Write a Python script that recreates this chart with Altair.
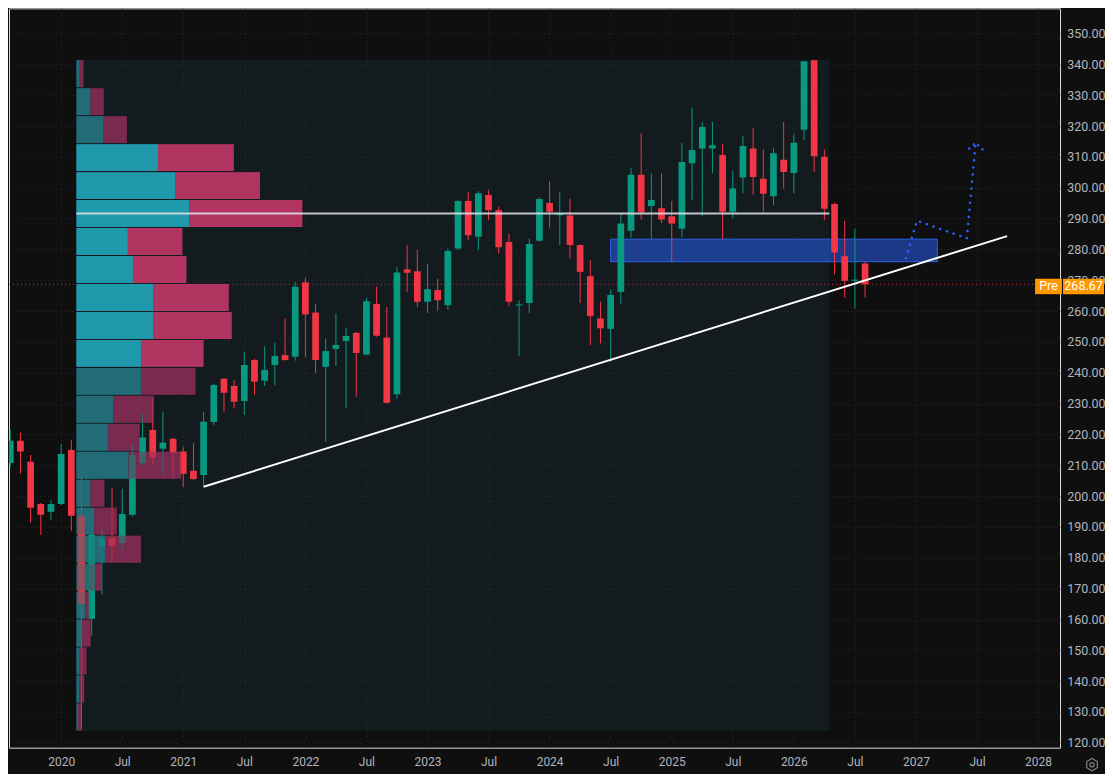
import altair as alt
import pandas as pd

# ---------------- data ----------------
first_month = (2019, 8)   # first candle shown: Aug 2019, monthly bars
opens = [210.7, 217.9, 211.1, 197.4, 194.9,
         197.4, 214.9, 193.6, 160.2, 183.6, 186.4, 184.8, 193.9, 210.6, 221.4, 215.3, 218.6,
         214.4, 208.2, 206.8, 224.0, 238.0, 235.7, 230.8, 244.1, 237.4, 242.5, 245.7, 245.2,
         269.3, 259.5, 241.9, 247.7, 250.3, 252.9, 245.9, 262.3, 251.4, 233.0, 273.5, 272.9,
         263.0, 266.8, 261.9, 280.3, 295.7, 284.1, 297.6, 292.7, 282.4, 261.8, 262.6, 282.8,
         295.0, 291.1, 291.0, 281.4, 271.3, 257.6, 254.2, 266.2, 286.0, 304.2, 294.1, 293.3,
         290.7, 286.7, 307.9, 312.7, 312.7, 310.6, 292.2, 303.3, 312.7, 302.9, 297.2, 309.1,
         304.8, 318.8, 341.3, 310.0, 294.7, 277.8, 269.8, 275.4]
highs = [221.6, 220.6, 213.3, 197.8, 198.7,
         216.9, 218.2, 206.8, 190.0, 190.0, 202.6, 202.3, 216.6, 226.6, 231.8, 227.3, 218.9,
         216.0, 217.1, 227.3, 236.5, 238.3, 237.6, 246.8, 244.5, 248.6, 249.7, 257.6, 269.4,
         270.9, 262.4, 251.1, 259.2, 254.4, 253.2, 264.2, 267.9, 261.3, 274.3, 281.4, 279.8,
         275.2, 270.4, 280.3, 295.9, 298.6, 298.9, 299.2, 293.8, 285.1, 263.5, 283.5, 296.8,
         302.2, 298.6, 296.5, 281.6, 276.5, 263.0, 267.0, 291.6, 306.5, 317.7, 304.6, 304.6,
         295.6, 314.5, 326.0, 321.3, 321.3, 314.1, 305.4, 316.7, 319.3, 312.4, 312.9, 321.3,
         317.3, 341.0, 341.5, 312.4, 295.2, 289.3, 286.7, 276.0]
lows = [209.4, 207.2, 191.4, 187.4, 192.3,
        197.0, 188.7, 124.2, 154.7, 168.0, 178.7, 182.5, 193.3, 210.0, 210.1, 206.8, 205.7,
        202.8, 205.2, 203.0, 223.0, 227.3, 228.4, 226.3, 232.8, 235.7, 236.0, 243.9, 243.9,
        245.1, 239.8, 217.6, 242.2, 228.4, 232.2, 245.6, 251.7, 230.0, 231.6, 266.2, 261.3,
        259.4, 260.1, 260.5, 279.8, 283.0, 279.8, 289.5, 278.7, 261.6, 245.4, 259.4, 282.5,
        287.1, 281.4, 277.0, 262.6, 248.9, 249.5, 243.5, 262.4, 283.8, 289.7, 283.5, 288.5,
        276.0, 284.0, 296.0, 290.8, 304.7, 283.3, 290.2, 298.2, 297.6, 292.2, 294.3, 299.7,
        298.2, 315.4, 305.1, 289.5, 271.9, 264.4, 260.8, 264.4]
closes = [217.9, 214.4, 196.2, 193.9, 197.4,
          213.6, 193.6, 165.0, 187.4, 186.1, 183.9, 194.2, 213.3, 219.0, 212.4, 217.3, 214.0,
          207.2, 205.5, 224.1, 236.0, 233.5, 230.6, 242.5, 237.1, 240.9, 245.4, 244.1, 267.9,
          258.9, 244.1, 247.0, 249.0, 251.9, 246.4, 263.2, 252.0, 230.2, 272.5, 272.4, 263.0,
          267.1, 263.5, 279.5, 295.7, 284.6, 298.2, 292.7, 280.7, 263.0, 262.1, 281.7, 296.3,
          292.2, 291.5, 281.4, 272.7, 258.4, 254.4, 265.2, 288.4, 304.2, 292.0, 296.0, 289.7,
          288.4, 308.3, 312.2, 319.7, 313.8, 292.2, 299.7, 313.5, 303.5, 298.0, 311.2, 305.1,
          314.6, 341.0, 310.2, 293.2, 279.0, 269.8, 270.2, 268.67]

# Fixed-range volume profile (Mar 2020 .. Apr 2026), 24 rows top -> bottom
vp_range_months = [1.5, 75.5]          # bar-edge bounds of the range (month index, 0 = Jan 2020)
vp_high, vp_low = 341.5, 123.8
vp_up = [3.3, 14, 27, 81, 98.3, 112, 51, 56, 76, 76, 64, 64,
         36.7, 31.7, 51.7, 14, 17.7, 29, 12.3, 9, 5, 3.3, 2.7, 1.7]
vp_down = [3.7, 13, 23, 75, 83.7, 112, 54, 53, 75, 78, 62, 54,
           40, 31, 52.3, 13.7, 22.3, 35, 12.7, 4.3, 9, 6.7, 5, 3.3]
value_area_rows = [3, 4, 5, 6, 7, 8, 9, 10]
vp_width_share = 0.30

# Drawings
trend_m, trend_p = [14.0, 92.96], [203.0, 284.3]
zone_m, zone_p = [54.0, 86.1], [276.0, 283.3]
path_m, path_p = [83.0, 84.1, 89.0, 89.87], [277.1, 289.3, 283.6, 314.6]
arrow_m, arrow_p = [89.23, 89.87, 90.78], [312.7, 314.6, 311.6]
last_price = 268.67

# ---------------- frames ----------------
n = len(opens)
y0, mo0 = first_month
m_idx = [(y0 - 2020) * 12 + (mo0 - 1) + i for i in range(n)]

GREEN, RED = "#089981", "#f23645"
c = pd.DataFrame({"m": m_idx, "open": opens, "high": highs, "low": lows, "close": closes})
c["color"] = [GREEN if cl >= op else RED for op, cl in zip(c["open"], c["close"])]
c["btop"] = c[["open", "close"]].max(axis=1)
c["bbot"] = c[["open", "close"]].min(axis=1)
c.loc[c["btop"] - c["bbot"] < 0.35, "btop"] = c["bbot"] + 0.35
c["x0"] = c["m"] - 0.33
c["x1"] = c["m"] + 0.33

rows = len(vp_up)
step = (vp_high - vp_low) / rows
span = vp_range_months[1] - vp_range_months[0]
max_tot = max(u + d for u, d in zip(vp_up, vp_down))
seg = []
for k in range(rows):
    top = vp_high - k * step - 0.17
    bot = vp_high - (k + 1) * step + 0.17
    inside = k in value_area_rows
    xu = vp_range_months[0] + vp_up[k] / max_tot * vp_width_share * span
    xt = vp_range_months[0] + (vp_up[k] + vp_down[k]) / max_tot * vp_width_share * span
    seg.append({"x0": vp_range_months[0], "x1": xu, "top": top, "bot": bot,
                "color": "#229aae" if inside else "#226c77"})
    seg.append({"x0": xu, "x1": xt, "top": top, "bot": bot,
                "color": "#b23562" if inside else "#7b2a4f"})
vp = pd.DataFrame(seg)
poc_k = max(range(rows), key=lambda k: vp_up[k] + vp_down[k])
poc = pd.DataFrame({"m0": [vp_range_months[0]], "m1": [vp_range_months[1]],
                    "p": [vp_high - (poc_k + 0.5) * step]})
region = pd.DataFrame({"m0": [vp_range_months[0]], "m1": [vp_range_months[1]],
                       "p0": [vp_high], "p1": [vp_low]})
trend = pd.DataFrame({"m0": [trend_m[0]], "m1": [trend_m[1]], "p0": [trend_p[0]], "p1": [trend_p[1]]})
zone = pd.DataFrame({"m0": [zone_m[0]], "m1": [zone_m[1]], "p0": [zone_p[0]], "p1": [zone_p[1]]})
path = pd.DataFrame({"m": path_m, "p": path_p, "o": range(len(path_m))})
arrow = pd.DataFrame({"m": arrow_m, "p": arrow_p, "o": range(len(arrow_m))})
last = pd.DataFrame({"p": [last_price], "lbl": [f"{last_price:.2f}"], "tag": ["Pre"]})
gear = pd.DataFrame({"g": [0]})

# ---------------- scales / axes ----------------
W, H = 1052, 740
X_DOM = [-5.125, 98.16]
Y_DOM = [358.17 - H / 3.086, 358.17]
GRID = "#2a2e39"
TXT = "#b2b5be"

xaxis = alt.Axis(values=list(range(0, 97, 6)),
                 labelExpr="datum.value % 12 == 0 ? toString(2020 + datum.value / 12) : 'Jul'",
                 grid=True, gridColor=GRID, gridDash=[1, 3], gridWidth=1,
                 domain=False, ticks=False, labelColor=TXT, labelFontSize=12,
                 labelPadding=9, labelFlush=False, labelOverlap=False, title=None)
yaxis = alt.Axis(orient="right", values=list(range(120, 351, 10)), format=".2f",
                 grid=True, gridColor=GRID, gridDash=[1, 3], gridWidth=1,
                 domain=False, ticks=False, labelColor=TXT, labelFontSize=12.5,
                 labelAlign="right", labelPadding=45, labelOverlap=False, title=None)
xs = alt.Scale(domain=X_DOM, nice=False, zero=False)
ys = alt.Scale(domain=Y_DOM, nice=False, zero=False)


def X(f):
    return alt.X(f, type="quantitative", scale=xs, axis=xaxis)


def Y(f):
    return alt.Y(f, type="quantitative", scale=ys, axis=yaxis)


# ---------------- layers ----------------
region_l = alt.Chart(region).mark_rect(fill="#1c343c", opacity=0.35).encode(
    x=X("m0"), x2=alt.X2("m1"), y=Y("p0"), y2=alt.Y2("p1"))

vp_l = alt.Chart(vp).mark_rect().encode(
    x=X("x0"), x2=alt.X2("x1"), y=Y("top"), y2=alt.Y2("bot"),
    color=alt.Color("color:N", scale=None))

price_line = alt.Chart(last).mark_rule(color=RED, strokeDash=[1, 3], strokeWidth=1, opacity=0.9).encode(
    y=Y("p"), x=alt.value(0), x2=alt.value(W))

zone_l = alt.Chart(zone).mark_rect(fill="#2962ff", fillOpacity=0.5, stroke="#2f5fe8", strokeWidth=1).encode(
    x=X("m0"), x2=alt.X2("m1"), y=Y("p0"), y2=alt.Y2("p1"))

wick_l = alt.Chart(c).mark_rule(strokeWidth=1, clip=True).encode(
    x=X("m"), y=Y("low"), y2=alt.Y2("high"), color=alt.Color("color:N", scale=None))

body_l = alt.Chart(c).mark_rect(clip=True).encode(
    x=X("x0"), x2=alt.X2("x1"), y=Y("btop"), y2=alt.Y2("bbot"),
    color=alt.Color("color:N", scale=None))

vp_over = alt.Chart(vp).mark_rect(opacity=0.45).encode(
    x=X("x0"), x2=alt.X2("x1"), y=Y("top"), y2=alt.Y2("bot"),
    color=alt.Color("color:N", scale=None))

poc_l = alt.Chart(poc).mark_rule(color="#e0e3eb", strokeWidth=2, opacity=0.85).encode(
    x=X("m0"), x2=alt.X2("m1"), y=Y("p"))

trend_l = alt.Chart(trend).mark_rule(color="#ffffff", strokeWidth=2).encode(
    x=X("m0"), x2=alt.X2("m1"), y=Y("p0"), y2=alt.Y2("p1"))

path_l = alt.Chart(path).mark_line(color="#2962ff", strokeWidth=2.5, strokeDash=[0.1, 7],
                                   strokeCap="round").encode(
    x=X("m"), y=Y("p"), order="o:Q")
arrow_l = alt.Chart(arrow).mark_line(color="#2962ff", strokeWidth=2.5, strokeDash=[0.1, 6],
                                     strokeCap="round").encode(
    x=X("m"), y=Y("p"), order="o:Q")

tag_box = alt.Chart(last).transform_calculate(t="datum.p + 1.8", b="datum.p - 3.2").mark_rect(
    color="#ff9800").encode(x=alt.value(1027), x2=alt.value(1054), y=Y("t:Q"), y2=alt.Y2("b:Q"))
px_box = alt.Chart(last).transform_calculate(t="datum.p + 1.8", b="datum.p - 3.2").mark_rect(
    color="#ff9800").encode(x=alt.value(1055), x2=alt.value(1096), y=Y("t:Q"), y2=alt.Y2("b:Q"))
lbl_pos = "datum.p - 0.7"
tag_txt = alt.Chart(last).transform_calculate(yc=lbl_pos).mark_text(
    color="#ffffff", fontSize=12.5, align="center", baseline="middle").encode(
    x=alt.value(1040.5), y=Y("yc:Q"), text="tag:N")
px_txt = alt.Chart(last).transform_calculate(yc=lbl_pos).mark_text(
    color="#ffffff", fontSize=12.5, align="center", baseline="middle").encode(
    x=alt.value(1075.5), y=Y("yc:Q"), text="lbl:N")

hexagon = "M0,-1L0.866,-0.5L0.866,0.5L0,1L-0.866,0.5L-0.866,-0.5Z"
gear_l = alt.Chart(gear).mark_point(shape=hexagon, filled=False, color=TXT, size=150, strokeWidth=1.2).encode(
    x=alt.value(1084), y=alt.value(757))
gear_c = alt.Chart(gear).mark_point(shape="circle", filled=False, color=TXT, size=18, strokeWidth=1.2).encode(
    x=alt.value(1084), y=alt.value(757))

chart = alt.layer(
    region_l, vp_l, price_line, zone_l, wick_l, body_l, vp_over, poc_l, trend_l,
    path_l, arrow_l, tag_box, px_box, tag_txt, px_txt, gear_l, gear_c
).properties(
    width=W, height=H, padding=0, background="#0f0f0f"
).configure_view(stroke=None).configure(font="Roboto")

chart.save("out.html", embed_options={"renderer": "svg", "actions": False})
